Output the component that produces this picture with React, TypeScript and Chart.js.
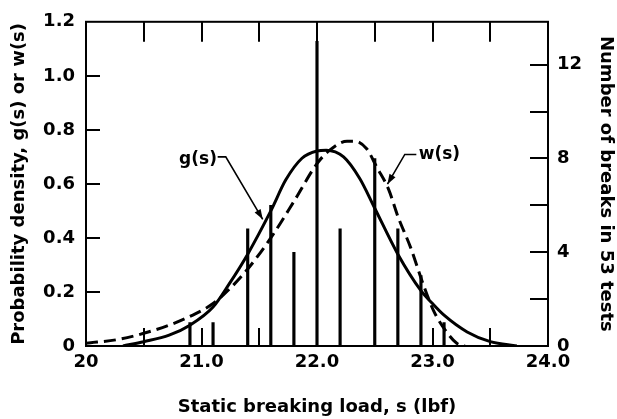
import React, { useEffect, useRef } from "react";
import { Chart, registerables } from "chart.js";

Chart.register(...registerables);

// Histogram of breaks (static breaking load, lbf -> number of breaks)
const breakLoads = [20.9, 21.1, 21.4, 21.6, 21.8, 22.0, 22.2, 22.5, 22.7, 22.9, 23.1];
const breakCounts = [1, 1, 5, 6, 4, 13, 5, 8, 5, 3, 1];

// g(s) solid curve
const gLoads = [20.32, 20.5, 20.72, 20.9, 21.1, 21.24, 21.4, 21.6, 21.73, 21.87, 22.0, 22.08, 22.23, 22.37, 22.5, 22.7, 22.9, 23.0, 23.1, 23.3, 23.5, 23.73];
const gDensity = [0, 0.016, 0.04, 0.077, 0.144, 0.23, 0.34, 0.5, 0.615, 0.695, 0.722, 0.725, 0.7, 0.62, 0.51, 0.34, 0.205, 0.157, 0.114, 0.052, 0.016, 0];

// w(s) dashed curve
const wLoads = [20.0, 20.29, 20.5, 20.72, 20.95, 21.1, 21.24, 21.4, 21.6, 21.8, 22.0, 22.11, 22.26, 22.33, 22.43, 22.52, 22.62, 22.7, 22.81, 22.91, 23.01, 23.11, 23.21, 23.28];
const wDensity = [0.01, 0.025, 0.047, 0.077, 0.12, 0.157, 0.21, 0.285, 0.4, 0.535, 0.675, 0.725, 0.758, 0.758, 0.73, 0.66, 0.58, 0.48, 0.365, 0.24, 0.13, 0.059, 0.01, 0];

// Tick labels
const xLabelValues = [20, 21, 22, 23, 24];
const xLabelTexts = ["20", "21.0", "22.0", "23.0", "24.0"];
const leftLabelValues = [0, 0.2, 0.4, 0.6, 0.8, 1.0, 1.2];
const leftLabelTexts = ["0", "0.2", "0.4", "0.6", "0.8", "1.0", "1.2"];
const rightLabelValues = [0, 4, 8, 12];
const rightLabelTexts = ["0", "4", "8", "12"];

// Curve labels with leader arrows (data coordinates)
const gLabelText = "g(s)";
const gLabelAt = [20.97, 0.69];
const gLeader = [[21.14, 0.7], [21.21, 0.7], [21.53, 0.469]];
const wLabelText = "w(s)";
const wLabelAt = [23.06, 0.707];
const wLeader = [[22.86, 0.709], [22.76, 0.709], [22.61, 0.599]];

const FONT = "'DejaVu Sans', 'Liberation Sans', Arial, sans-serif";

function pickLabel(v: number, vals: number[], texts: string[]) {
  for (let i = 0; i < vals.length; i++) {
    if (Math.abs(vals[i] - v) < 1e-6) return texts[i];
  }
  return "";
}

const framePlugin = {
  id: "frameTicks",
  afterDatasetsDraw(chart: any) {
    const { ctx, chartArea: a, scales } = chart;
    const x = scales.x, y = scales.y, y2 = scales.y2;
    ctx.save();
    ctx.strokeStyle = "#000";
    ctx.fillStyle = "#000";
    ctx.lineWidth = 2;
    ctx.strokeRect(a.left, a.top, a.right - a.left, a.bottom - a.top);
    ctx.beginPath();
    for (const t of x.ticks) {
      const v = t.value;
      if (v <= x.min + 1e-6 || v >= x.max - 1e-6) continue;
      const px = Math.round(x.getPixelForValue(v));
      ctx.moveTo(px, a.bottom);
      ctx.lineTo(px, a.bottom - 18);
      ctx.moveTo(px, a.top);
      ctx.lineTo(px, a.top + 20);
    }
    for (const t of y.ticks) {
      const v = t.value;
      if (v <= y.min + 1e-6 || v >= y.max - 1e-6) continue;
      const py = Math.round(y.getPixelForValue(v));
      ctx.moveTo(a.left, py);
      ctx.lineTo(a.left + 14, py);
    }
    for (const t of y2.ticks) {
      const v = t.value;
      if (v <= y2.min + 1e-6 || v >= y2.max - 1e-6) continue;
      if (Math.abs(v / 2 - Math.round(v / 2)) > 1e-6) continue;
      const py = Math.round(y2.getPixelForValue(v));
      ctx.moveTo(a.right, py);
      ctx.lineTo(a.right - 18, py);
    }
    ctx.stroke();

    // curve labels
    const drawLabel = (text: string, at: number[], leader: number[][]) => {
      ctx.font = `bold 17px ${FONT}`;
      ctx.textAlign = "center";
      ctx.textBaseline = "middle";
      ctx.fillText(text, x.getPixelForValue(at[0]), y.getPixelForValue(at[1]));
      const pts = leader.map((p) => [x.getPixelForValue(p[0]), y.getPixelForValue(p[1])]);
      ctx.lineWidth = 1.6;
      ctx.beginPath();
      ctx.moveTo(pts[0][0], pts[0][1]);
      for (let i = 1; i < pts.length; i++) ctx.lineTo(pts[i][0], pts[i][1]);
      ctx.stroke();
      const n = pts.length;
      const tip = pts[n - 1], prev = pts[n - 2];
      const ang = Math.atan2(tip[1] - prev[1], tip[0] - prev[0]);
      const len = 10, half = 3.5;
      ctx.beginPath();
      ctx.moveTo(tip[0], tip[1]);
      ctx.lineTo(tip[0] - len * Math.cos(ang) + half * Math.sin(ang), tip[1] - len * Math.sin(ang) - half * Math.cos(ang));
      ctx.lineTo(tip[0] - len * Math.cos(ang) - half * Math.sin(ang), tip[1] - len * Math.sin(ang) + half * Math.cos(ang));
      ctx.closePath();
      ctx.fill();
    };
    drawLabel(gLabelText, gLabelAt, gLeader);
    drawLabel(wLabelText, wLabelAt, wLeader);
    ctx.restore();
  },
};

export default function App() {
  const ref = useRef<HTMLCanvasElement>(null);

  useEffect(() => {
    if (!ref.current) return;
    const tickFont = { family: FONT, size: 18, weight: "bold" as const };
    const titleFont = { family: FONT, size: 18, weight: "bold" as const };
    const chart = new Chart(ref.current, {
      type: "line",
      data: {
        datasets: [
          {
            type: "line",
            label: "g(s)",
            data: gLoads.map((s, i) => ({ x: s, y: gDensity[i] })),
            borderColor: "#000",
            borderWidth: 3,
            pointRadius: 0,
            cubicInterpolationMode: "monotone",
            fill: false,
            xAxisID: "x",
            yAxisID: "y",
          },
          {
            type: "line",
            label: "w(s)",
            data: wLoads.map((s, i) => ({ x: s, y: wDensity[i] })),
            borderColor: "#000",
            borderWidth: 3,
            borderDash: [12, 6],
            pointRadius: 0,
            cubicInterpolationMode: "monotone",
            fill: false,
            xAxisID: "x",
            yAxisID: "y",
          },
          {
            type: "bar",
            label: "breaks",
            data: breakLoads.map((s, i) => ({ x: s, y: breakCounts[i] })) as any,
            backgroundColor: "#000",
            borderWidth: 0,
            barThickness: 2.5,
            grouped: false,
            xAxisID: "x",
            yAxisID: "y2",
          } as any,
        ],
      },
      options: {
        responsive: false,
        animation: false,
        layout: { padding: { top: 19, left: 0, right: 0, bottom: 0 } },
        plugins: { legend: { display: false }, tooltip: { enabled: false } },
        scales: {
          x: {
            type: "linear",
            position: "bottom",
            min: 20,
            max: 24,
            offset: false,
            grid: { display: false, drawTicks: false },
            border: { display: false },
            ticks: {
              stepSize: 0.5,
              autoSkip: false,
              maxRotation: 0,
              minRotation: 0,
              padding: 6,
              color: "#000",
              font: tickFont,
              callback: (v: any) => pickLabel(Number(v), xLabelValues, xLabelTexts),
            },
            title: {
              display: true,
              text: "Static breaking load, s (lbf)",
              color: "#000",
              font: titleFont,
              padding: { top: 0, bottom: 1 },
            },
            afterFit: (s: any) => {
              s.height = 73;
            },
          },
          y: {
            type: "linear",
            position: "left",
            min: 0,
            max: 1.2,
            grid: { display: false, drawTicks: false },
            border: { display: false },
            ticks: {
              stepSize: 0.2,
              padding: 11,
              color: "#000",
              font: tickFont,
              callback: (v: any) => pickLabel(Number(v), leftLabelValues, leftLabelTexts),
            },
            title: {
              display: true,
              text: "Probability density, g(s) or w(s)",
              color: "#000",
              font: titleFont,
              padding: { top: 9, bottom: 0 },
            },
            afterFit: (s: any) => {
              s.width = 86;
            },
          },
          y2: {
            type: "linear",
            position: "right",
            min: 0,
            max: 13.83,
            grid: { display: false, drawTicks: false },
            border: { display: false },
            ticks: {
              stepSize: 2,
              padding: 9,
              color: "#000",
              font: tickFont,
              callback: (v: any) => pickLabel(Number(v), rightLabelValues, rightLabelTexts),
            },
            title: {
              display: true,
              text: "Number of breaks in 53 tests",
              color: "#000",
              font: titleFont,
              padding: { top: 1, bottom: 0 },
            },
            afterFit: (s: any) => {
              s.width = 69;
            },
          },
        },
      },
      plugins: [framePlugin],
    } as any);
    return () => chart.destroy();
  }, []);

  return (
    <div style={{ position: "fixed", left: 0, top: 0, width: 617, height: 419, background: "#fff" }}>
      <canvas ref={ref} width={617} height={419} style={{ display: "block" }} />
    </div>
  );
}
